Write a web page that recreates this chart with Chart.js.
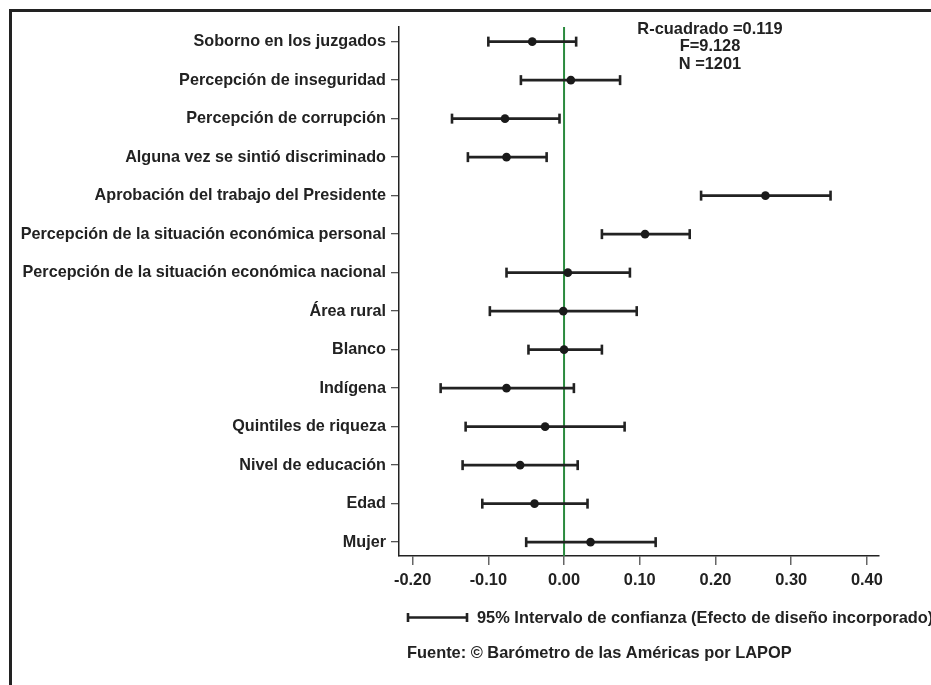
<!DOCTYPE html>
<html>
<head>
<meta charset="utf-8">
<script src="https://cdn.jsdelivr.net/npm/chart.js@4.4.0/dist/chart.umd.min.js"></script>
<style>
  html, body { margin: 0; padding: 0; background: #fff; }
  canvas { display: block; }
</style>
</head>
<body>
<canvas id="grafica" width="931" height="685"></canvas>
<script>
// variables del modelo (de arriba hacia abajo)
const categorias = [
  'Soborno en los juzgados',
  'Percepción de inseguridad',
  'Percepción de corrupción',
  'Alguna vez se sintió discriminado',
  'Aprobación del trabajo del Presidente',
  'Percepción de la situación económica personal',
  'Percepción de la situación económica nacional',
  'Área rural',
  'Blanco',
  'Indígena',
  'Quintiles de riqueza',
  'Nivel de educación',
  'Edad',
  'Mujer'
];
const coeficientes = [-0.042, 0.009, -0.078, -0.076, 0.266, 0.107, 0.005, -0.001, 0.000, -0.076, -0.025, -0.058, -0.039, 0.035];
const inferior     = [-0.100, -0.057, -0.148, -0.127, 0.181, 0.050, -0.076, -0.098, -0.047, -0.163, -0.130, -0.134, -0.108, -0.050];
const superior     = [0.016, 0.074, -0.006, -0.023, 0.352, 0.166, 0.087, 0.096, 0.050, 0.013, 0.080, 0.018, 0.031, 0.121];
const ticksX = [-0.20, -0.10, 0.00, 0.10, 0.20, 0.30, 0.40];
const estadisticos = ['R-cuadrado =0.119', 'F=9.128', 'N =1201'];
const leyenda = '95% Intervalo de confianza (Efecto de diseño incorporado)';
const fuente = 'Fuente: © Barómetro de las Américas por LAPOP';

const FAMILIA = "'Liberation Sans', Arial, sans-serif";
const NEGRO = '#222222';

// lineas de los intervalos, una por variable
const lineas = categorias.map((c, i) => ({
  type: 'line',
  data: [{x: inferior[i], y: i}, {x: superior[i], y: i}],
  borderColor: NEGRO,
  borderWidth: 2.6,
  pointRadius: 0,
  order: 2
}));

const topes = [];
categorias.forEach((c, i) => {
  topes.push({x: inferior[i], y: i});
  topes.push({x: superior[i], y: i});
});

const extras = {
  id: 'extras',
  beforeDatasetsDraw(chart) {
    const {ctx, chartArea, scales} = chart;
    const x0 = scales.x.getPixelForValue(0);
    ctx.save();
    ctx.strokeStyle = '#2a8a3e';
    ctx.lineWidth = 2;
    ctx.beginPath();
    ctx.moveTo(x0, chartArea.top);
    ctx.lineTo(x0, chartArea.bottom);
    ctx.stroke();
    ctx.restore();
  },
  afterDraw(chart) {
    const {ctx} = chart;
    ctx.save();
    // marco
    ctx.strokeStyle = NEGRO;
    ctx.lineWidth = 3;
    ctx.beginPath();
    ctx.moveTo(10.5, 685);
    ctx.lineTo(10.5, 10.5);
    ctx.lineTo(931, 10.5);
    ctx.stroke();

    ctx.fillStyle = NEGRO;
    ctx.font = 'bold 16.4px ' + FAMILIA;
    ctx.textAlign = 'center';
    ctx.textBaseline = 'middle';
    estadisticos.forEach((t, i) => ctx.fillText(t, 710, 29 + i * 17.5));

    // leyenda
    ctx.lineWidth = 2.6;
    ctx.beginPath();
    ctx.moveTo(408, 617.5); ctx.lineTo(467, 617.5);
    ctx.moveTo(408, 613); ctx.lineTo(408, 622);
    ctx.moveTo(467, 613); ctx.lineTo(467, 622);
    ctx.stroke();
    ctx.textAlign = 'left';
    ctx.fillText(leyenda, 477, 618);
    ctx.fillText(fuente, 407, 653);
    ctx.restore();
  }
};

new Chart(document.getElementById('grafica'), {
  data: {
    datasets: [
      {
        type: 'scatter',
        data: coeficientes.map((v, i) => ({x: v, y: i})),
        pointStyle: 'circle',
        pointRadius: 4.3,
        backgroundColor: '#1a1a1a',
        borderWidth: 0,
        order: 0
      },
      {
        type: 'scatter',
        data: topes,
        pointStyle: 'line',
        rotation: 90,
        pointRadius: 5,
        borderColor: NEGRO,
        borderWidth: 2.6,
        order: 1
      },
      ...lineas
    ]
  },
  options: {
    responsive: false,
    animation: false,
    layout: { padding: { top: 27, right: 52, left: 0, bottom: 0 } },
    plugins: { legend: { display: false }, tooltip: { enabled: false } },
    scales: {
      x: {
        type: 'linear',
        position: 'bottom',
        min: -0.218,
        max: 0.416,
        bounds: 'data',
        afterBuildTicks: s => { s.ticks = ticksX.map(v => ({value: v})); },
        afterFit: s => { s.height = 129; },
        grid: { drawOnChartArea: false, drawTicks: true, tickLength: 9, color: '#666', lineWidth: 1.5 },
        border: { display: true, color: NEGRO, width: 1.5 },
        ticks: {
          padding: 6,
          color: NEGRO,
          font: { family: FAMILIA, size: 16.4, weight: 'bold' },
          callback: v => v.toFixed(2)
        }
      },
      y: {
        type: 'linear',
        reverse: true,
        min: -0.38,
        max: 13.36,
        bounds: 'data',
        afterBuildTicks: s => { s.ticks = categorias.map((c, i) => ({value: i})); },
        afterFit: s => { s.width = 399; },
        grid: { drawOnChartArea: false, drawTicks: true, tickLength: 8, color: '#555', lineWidth: 1.3 },
        border: { display: true, color: NEGRO, width: 1.5 },
        ticks: {
          padding: 5,
          color: NEGRO,
          autoSkip: false,
          font: { family: FAMILIA, size: 16.2, weight: 'bold' },
          callback: v => categorias[v]
        }
      }
    }
  },
  plugins: [extras]
});
</script>
</body>
</html>
